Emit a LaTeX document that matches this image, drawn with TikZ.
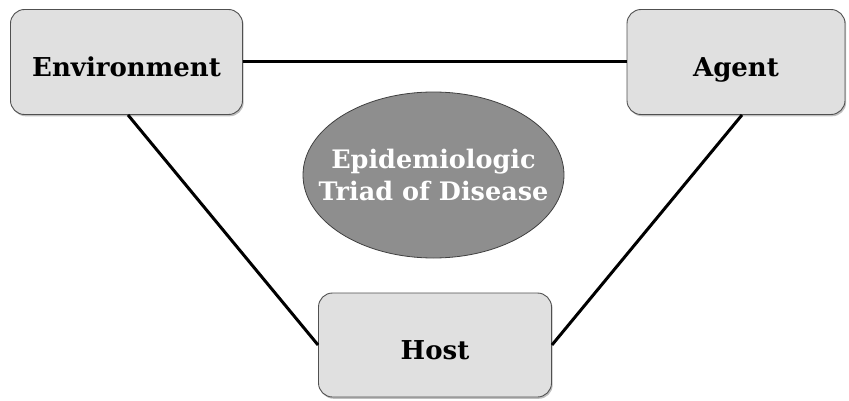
\documentclass[tikz,border=0pt]{standalone}
\usepackage{fontspec}
\setmainfont{DejaVu Serif}
\usetikzlibrary{shadows,shapes.geometric}
\definecolor{boxfill}{HTML}{E0E0E0}
\definecolor{boxline}{HTML}{505050}
\definecolor{ellfill}{HTML}{8E8E8E}
\definecolor{ellline}{HTML}{404040}
\begin{document}
\begin{tikzpicture}[x=1pt,y=1pt,
  factor/.style={draw=boxline, line width=0.9pt, fill=boxfill, rounded corners=14pt,
    drop shadow={shadow xshift=1.2pt, shadow yshift=-1.8pt, opacity=0.5},
    font=\bfseries\fontsize{26}{30}\selectfont, inner sep=0pt,
    text height=29pt, text depth=0pt},
  link/.style={line width=3pt, black}]
\useasboundingbox (0,0) rectangle (849,400);
\node[factor, minimum width=232pt, minimum height=105pt] (env) at (126.5,338) {Environment};
\node[factor, minimum width=218pt, minimum height=105pt] (agent) at (736,338) {Agent};
\node[factor, minimum width=233pt, minimum height=104pt] (host) at (435,55) {Host};
\node[ellipse, draw=ellline, line width=0.8pt, fill=ellfill, minimum width=261pt, minimum height=166pt,
  inner xsep=-30pt, inner ysep=0pt, text=white, align=center,
  font=\bfseries\fontsize{25.5}{32}\selectfont] (triad) at (433.5,225) {Epidemiologic\\Triad of Disease};
\draw[link] (env.east) -- (agent.west);
\draw[link] ([xshift=1.5pt]env.south) -- (host.west);
\draw[link] ([xshift=6pt]agent.south) -- (host.east);
\end{tikzpicture}
\end{document}
